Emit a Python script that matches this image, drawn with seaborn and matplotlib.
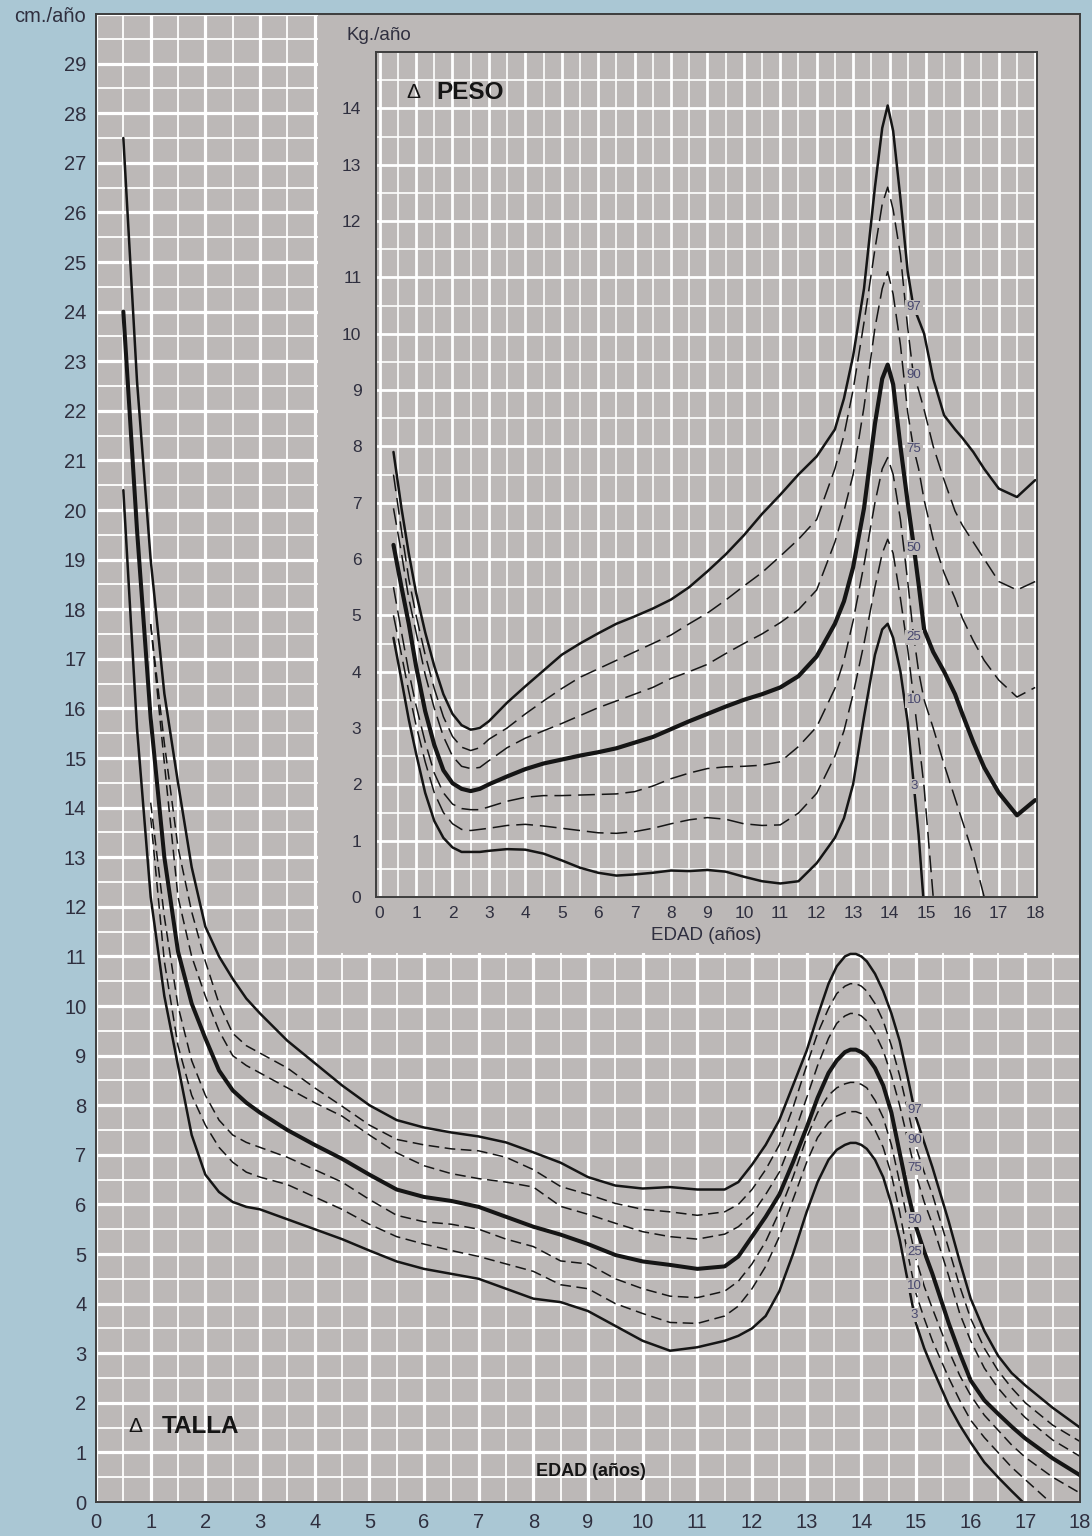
import numpy as np
import pandas as pd
import matplotlib
matplotlib.use("Agg")
import matplotlib.pyplot as plt
from matplotlib.patches import Rectangle
from matplotlib.ticker import MultipleLocator
import seaborn as sns

# --- data: growth velocity (talla, cm/año) -----------------------------------
PERCENTILES = ["97", "90", "75", "50", "25", "10", "3"]
nan = np.nan

edad_talla = [0.5, 0.75, 1.0, 1.25, 1.5, 1.75, 2.0, 2.25, 2.5, 2.75,
              3.0, 3.5, 4.0, 4.5, 5.0, 5.5, 6.0, 6.5, 7.0, 7.5,
              8.0, 8.5, 9.0, 9.5, 10.0, 10.5, 11.0, 11.5, 11.75, 12.0, 12.25, 12.5,
              12.75, 13.0, 13.2, 13.4, 13.55, 13.7, 13.8, 13.9, 14.0, 14.1, 14.25, 14.4,
              14.55, 14.7, 14.85, 15.0, 15.15, 15.3, 15.6, 15.8, 16.0, 16.25, 16.5, 16.75,
              17.0, 17.5, 18.0]

talla_97 = [27.5, 22.6, 19.0, 16.3, 14.5, 12.8, 11.6, 11.0, 10.55, 10.15,
            9.85, 9.3, 8.85, 8.4, 8.0, 7.7, 7.55, 7.45, 7.37, 7.25,
            7.05, 6.84, 6.55, 6.38, 6.32, 6.35, 6.3, 6.3, 6.45, 6.8, 7.2, 7.7,
            8.4, 9.1, 9.8, 10.45, 10.8, 11.0, 11.05, 11.05, 11.0, 10.9, 10.65, 10.3,
            9.85, 9.3, 8.55, 7.75, 7.25, 6.75, 5.65, 4.85, 4.1, 3.45, 2.95, 2.6,
            2.35, 1.9, 1.5]
talla_90 = [nan, nan, 17.7, 15.3, 13.2, 11.9, 10.9, 10.05, 9.45, 9.2,
            9.05, 8.75, 8.35, 7.98, 7.6, 7.31, 7.2, 7.12, 7.08, 6.95,
            6.7, 6.36, 6.2, 6.02, 5.9, 5.85, 5.78, 5.85, 6.0, 6.3, 6.7, 7.2,
            7.95, 8.8, 9.45, 9.95, 10.25, 10.4, 10.45, 10.45, 10.4, 10.3, 10.05, 9.7,
            9.2, 8.6, 7.9, 7.15, 6.65, 6.2, 5.1, 4.35, 3.7, 3.1, 2.65, 2.3,
            2.0, 1.55, 1.22]
talla_75 = [nan, nan, 17.7, 14.9, 12.2, 11.0, 10.2, 9.5, 9.0, 8.8,
            8.65, 8.35, 8.05, 7.78, 7.4, 7.04, 6.78, 6.62, 6.52, 6.45,
            6.35, 5.96, 5.8, 5.62, 5.45, 5.35, 5.3, 5.4, 5.55, 5.8, 6.2, 6.65,
            7.35, 8.15, 8.8, 9.35, 9.65, 9.8, 9.85, 9.85, 9.8, 9.7, 9.45, 9.1,
            8.6, 8.0, 7.3, 6.6, 6.05, 5.6, 4.55, 3.8, 3.25, 2.7, 2.3, 1.98,
            1.7, 1.25, 0.92]
talla_50 = [24.0, 19.6, 15.8, 13.0, 11.1, 10.05, 9.35, 8.7, 8.3, 8.05,
            7.85, 7.5, 7.2, 6.92, 6.6, 6.3, 6.15, 6.07, 5.95, 5.75,
            5.55, 5.39, 5.2, 4.98, 4.85, 4.78, 4.7, 4.75, 4.95, 5.35, 5.75, 6.2,
            6.85, 7.55, 8.15, 8.65, 8.9, 9.07, 9.12, 9.12, 9.07, 8.98, 8.75, 8.4,
            7.85, 7.05, 6.25, 5.55, 5.05, 4.6, 3.6, 3.0, 2.45, 2.05, 1.78, 1.52,
            1.28, 0.88, 0.54]
talla_25 = [nan, nan, 14.1, 11.8, 10.0, 8.9, 8.2, 7.7, 7.4, 7.25,
            7.15, 6.95, 6.7, 6.45, 6.1, 5.78, 5.65, 5.6, 5.5, 5.3,
            5.15, 4.86, 4.8, 4.5, 4.3, 4.15, 4.12, 4.25, 4.45, 4.8, 5.25, 5.85,
            6.55, 7.35, 7.85, 8.2, 8.35, 8.43, 8.46, 8.46, 8.42, 8.35, 8.1, 7.75,
            7.2, 6.45, 5.65, 4.9, 4.35, 3.9, 3.05, 2.55, 2.15, 1.75, 1.45, 1.15,
            0.9, 0.5, 0.18]
talla_10 = [nan, nan, 13.8, 10.9, 9.2, 8.2, 7.6, 7.15, 6.85, 6.65,
            6.55, 6.4, 6.15, 5.9, 5.6, 5.35, 5.2, 5.07, 4.95, 4.8,
            4.65, 4.38, 4.3, 4.0, 3.8, 3.62, 3.6, 3.75, 3.95, 4.3, 4.75, 5.35,
            6.1, 6.85, 7.35, 7.65, 7.78, 7.85, 7.87, 7.87, 7.83, 7.75, 7.5, 7.15,
            6.6, 5.85, 5.0, 4.2, 3.7, 3.25, 2.5, 2.05, 1.65, 1.3, 1.0, 0.7,
            0.45, -0.05, nan]
talla_3 = [20.4, 15.6, 12.2, 10.2, 8.8, 7.4, 6.6, 6.25, 6.05, 5.95,
           5.9, 5.7, 5.5, 5.3, 5.07, 4.85, 4.7, 4.6, 4.5, 4.3,
           4.1, 4.03, 3.85, 3.55, 3.25, 3.05, 3.12, 3.25, 3.35, 3.5, 3.75, 4.25,
           5.0, 5.85, 6.45, 6.9, 7.1, 7.2, 7.24, 7.24, 7.2, 7.12, 6.9, 6.55,
           6.0, 5.3, 4.45, 3.6, 3.1, 2.7, 1.95, 1.55, 1.2, 0.8, 0.5, 0.22,
           -0.05, nan, nan]

# --- data: weight velocity (peso, kg/año) ------------------------------------
edad_peso = [0.38, 0.6, 0.8, 1.0, 1.25, 1.5, 1.75, 2.0, 2.25, 2.5, 2.75, 3.0, 3.5, 4.0,
             4.5, 5.0, 5.5, 6.0, 6.5, 7.0, 7.5, 8.0, 8.5, 9.0, 9.5, 10.0, 10.5, 11.0,
             11.5, 12.0, 12.5, 12.75, 13.0, 13.3, 13.6, 13.8, 13.95, 14.1, 14.3, 14.5,
             14.65, 14.8, 14.95, 15.2, 15.5, 15.8, 16.0, 16.3, 16.6, 17.0, 17.5, 18.0]

peso_97 = [7.9, 6.9, 6.1, 5.4, 4.7, 4.1, 3.6, 3.25, 3.05, 2.97, 3.0, 3.12, 3.45, 3.74,
           4.02, 4.3, 4.5, 4.68, 4.85, 4.98, 5.12, 5.28, 5.5, 5.78, 6.08, 6.42, 6.8, 7.14,
           7.5, 7.82, 8.3, 8.85, 9.6, 10.8, 12.6, 13.65, 14.05, 13.6, 12.4, 11.1,
           10.5, 10.25, 10.0, 9.2, 8.55, 8.3, 8.15, 7.9, 7.6, 7.25, 7.1, 7.4]
peso_90 = [7.5, 6.5, 5.65, 5.0, 4.3, 3.7, 3.2, 2.85, 2.66, 2.6, 2.65, 2.8, 3.0, 3.25,
           3.48, 3.7, 3.9, 4.05, 4.2, 4.35, 4.5, 4.65, 4.85, 5.04, 5.27, 5.52, 5.76, 6.05,
           6.35, 6.7, 7.6, 8.2, 9.0, 10.2, 11.5, 12.3, 12.6, 12.2, 11.4, 10.1,
           9.3, 9.0, 8.65, 8.0, 7.4, 6.85, 6.6, 6.3, 6.0, 5.6, 5.45, 5.6]
peso_75 = [6.9, 6.1, 5.3, 4.7, 3.95, 3.35, 2.85, 2.5, 2.32, 2.28, 2.3, 2.42, 2.65, 2.82,
           2.95, 3.08, 3.22, 3.36, 3.48, 3.6, 3.72, 3.88, 4.0, 4.13, 4.32, 4.5, 4.67, 4.87,
           5.1, 5.45, 6.3, 6.85, 7.5, 8.7, 10.1, 10.8, 11.1, 10.7, 9.8, 8.6,
           8.0, 7.6, 7.05, 6.35, 5.75, 5.3, 4.95, 4.55, 4.2, 3.85, 3.55, 3.72]
peso_50 = [6.25, 5.5, 4.85, 4.1, 3.3, 2.7, 2.25, 2.02, 1.92, 1.88, 1.92, 2.0, 2.14, 2.27,
           2.37, 2.44, 2.51, 2.57, 2.64, 2.74, 2.84, 2.98, 3.12, 3.25, 3.38, 3.5, 3.6, 3.72,
           3.92, 4.27, 4.85, 5.25, 5.85, 6.9, 8.4, 9.2, 9.45, 9.1, 8.0, 7.0,
           6.3, 5.55, 4.75, 4.35, 4.0, 3.6, 3.25, 2.75, 2.3, 1.85, 1.45, 1.72]
peso_25 = [5.5, 4.7, 4.0, 3.4, 2.75, 2.2, 1.85, 1.65, 1.57, 1.55, 1.55, 1.6, 1.7, 1.77,
           1.8, 1.8, 1.81, 1.82, 1.83, 1.87, 1.97, 2.1, 2.2, 2.28, 2.31, 2.32, 2.34, 2.4,
           2.67, 3.02, 3.7, 4.2, 4.9, 5.9, 7.0, 7.6, 7.8, 7.5, 6.7, 5.6,
           4.7, 4.0, 3.5, 3.0, 2.35, 1.75, 1.35, 0.75, 0.0, nan, nan, nan]
peso_10 = [5.0, 4.3, 3.65, 3.05, 2.4, 1.85, 1.5, 1.3, 1.2, 1.18, 1.2, 1.22, 1.27, 1.29,
           1.26, 1.22, 1.18, 1.14, 1.13, 1.16, 1.22, 1.3, 1.37, 1.41, 1.38, 1.3, 1.27, 1.28,
           1.49, 1.84, 2.5, 2.95, 3.6, 4.5, 5.5, 6.1, 6.35, 6.1, 5.3, 4.4,
           3.6, 2.8, 1.95, 0.0, nan, nan, nan, nan, nan, nan, nan, nan]
peso_3 = [4.6, 3.85, 3.15, 2.55, 1.85, 1.35, 1.05, 0.88, 0.8, 0.8, 0.8, 0.82, 0.85, 0.84,
          0.77, 0.65, 0.52, 0.43, 0.38, 0.4, 0.43, 0.47, 0.46, 0.48, 0.45, 0.36, 0.28, 0.24,
          0.28, 0.6, 1.05, 1.4, 2.0, 3.2, 4.3, 4.75, 4.85, 4.6, 4.0, 3.1,
          2.1, 1.1, -0.2, nan, nan, nan, nan, nan, nan, nan, nan, nan]

edad_ticks = list(range(0, 19))
talla_ticks = list(range(0, 31))
talla_ticklabels = [str(v) for v in range(0, 30)] + ["cm./año"]
peso_ticks = list(range(0, 15))

talla = pd.DataFrame({"edad": edad_talla, "97": talla_97, "90": talla_90, "75": talla_75,
                      "50": talla_50, "25": talla_25, "10": talla_10, "3": talla_3})
peso = pd.DataFrame({"edad": edad_peso, "97": peso_97, "90": peso_90, "75": peso_75,
                     "50": peso_50, "25": peso_25, "10": peso_10, "3": peso_3})
talla_long = talla.melt(id_vars="edad", var_name="pct", value_name="valor").dropna()
peso_long = peso.melt(id_vars="edad", var_name="pct", value_name="valor").dropna()

# --- style --------------------------------------------------------------------
sns.set_style("white")
plt.rcParams["font.family"] = ["Liberation Sans", "DejaVu Sans"]

BLUE = "#aac7d4"
GREY = "#bcb8b7"
INK = "#151515"
TXT = "#2f2f3f"
PCT_COLOR = "#48486e"

fig = plt.figure(figsize=(10.92, 15.36), dpi=100, facecolor=BLUE)


def style_axes(ax, xlim, ylim, labelsize, xpad, ypad, major_lw, minor_lw):
    ax.set_facecolor(GREY)
    ax.set_xlim(*xlim)
    ax.set_ylim(*ylim)
    ax.xaxis.set_minor_locator(MultipleLocator(0.5))
    ax.yaxis.set_minor_locator(MultipleLocator(0.5))
    ax.set_axisbelow(True)
    ax.grid(which="major", color="white", linewidth=major_lw)
    ax.grid(which="minor", color="white", linewidth=minor_lw)
    ax.tick_params(which="both", length=0, labelsize=labelsize, labelcolor=TXT)
    ax.tick_params(axis="x", pad=xpad)
    ax.tick_params(axis="y", pad=ypad)
    for s in ax.spines.values():
        s.set_visible(True)
        s.set_color("#3d3d3d")
        s.set_linewidth(1.4)


def draw_curves(ax, data, dash, thin_lw, thick_lw, dash_lw):
    for p in PERCENTILES:
        sub = data[data["pct"] == p]
        if p == "50":
            kw = dict(linewidth=thick_lw, linestyle="-")
        elif p in ("97", "3"):
            kw = dict(linewidth=thin_lw, linestyle="-")
        else:
            kw = dict(linewidth=dash_lw, linestyle=(0, dash))
        sns.lineplot(data=sub, x="edad", y="valor", ax=ax, color=INK, estimator=None,
                     legend=False, solid_joinstyle="round", dash_capstyle="butt", **kw)
    ax.set_xlabel("")
    ax.set_ylabel("")


def label_curves(ax, wide, xpos, fs):
    for p in PERCENTILES:
        sub = wide[["edad", p]].dropna()
        y = np.interp(xpos, sub["edad"], sub[p])
        ax.text(xpos, y, p, fontsize=fs, color=PCT_COLOR, ha="center", va="center",
                zorder=4, bbox=dict(boxstyle="square,pad=0.1", fc=GREY, ec="none"))


# --- main chart: talla ------------------------------------------------------------
ax = fig.add_axes([96 / 1092, 34 / 1536, 984 / 1092, 1488 / 1536])
style_axes(ax, (0, 18), (0, 30), 14.5, 8, 7, 2.3, 1.3)
ax.set_xticks(edad_ticks)
ax.set_yticks(talla_ticks)
ax.set_yticklabels(talla_ticklabels)

draw_curves(ax, talla_long, (7, 3.6), 1.8, 2.9, 1.1)
label_curves(ax, talla, 14.97, 9.5)

# grey panel holding the weight chart
ax.add_patch(Rectangle((4.06, 11.07), 18 - 4.06, 30 - 11.07, facecolor=GREY,
                       edgecolor="none", zorder=1.6))

ax.text(0.6, 1.53, "Δ", fontsize=15, color=INK, ha="left", va="center")
ax.text(1.21, 1.53, "TALLA", fontsize=17.5, fontweight="bold", color=INK,
        ha="left", va="center")
ax.text(9.05, 0.62, "EDAD (años)", fontsize=13, fontweight="bold", color=INK,
        ha="center", va="center")

# --- inset chart: peso ------------------------------------------------------------
ax_in = fig.add_axes([376 / 1092, 639 / 1536, 661 / 1092, 845 / 1536])
style_axes(ax_in, (-0.1, 18.05), (0, 15), 12.5, 6.5, 10.5, 2.0, 1.2)
ax_in.set_xticks(edad_ticks)
ax_in.set_yticks(peso_ticks)

draw_curves(ax_in, peso_long, (11, 4.5), 1.8, 3.0, 1.1)
label_curves(ax_in, peso, 14.67, 9.5)

ax_in.set_xlabel("EDAD (años)", fontsize=13.5, color=TXT, labelpad=4)
ax_in.text(-0.044, 1.019, "Kg./año", transform=ax_in.transAxes, fontsize=13.5,
           color=TXT, ha="left", va="center")
ax_in.text(0.74, 14.28, "Δ", fontsize=15, color=INK, ha="left", va="center")
ax_in.text(1.57, 14.28, "PESO", fontsize=17.5, fontweight="bold", color=INK,
           ha="left", va="center")

fig.savefig("out.png", dpi=100, facecolor=BLUE)
